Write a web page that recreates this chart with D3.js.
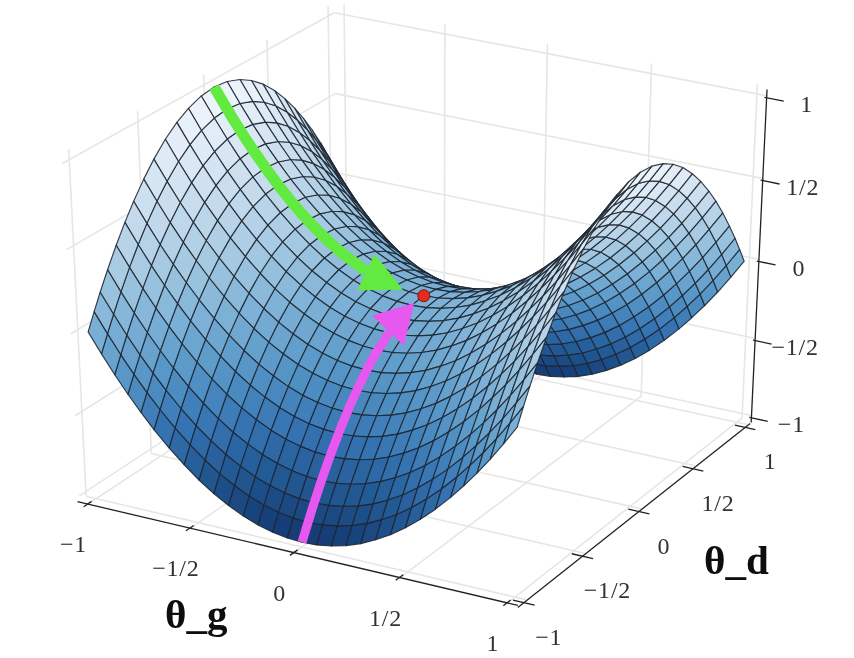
<!DOCTYPE html>
<html><head><meta charset="utf-8">
<script src="https://cdn.jsdelivr.net/npm/d3@7/dist/d3.min.js"></script>
<style>html,body{margin:0;padding:0;background:#fff}svg{display:block}</style>
</head><body><svg id="c" width="854" height="658"></svg>
<script>
// ---- data ----
const thetaG = [-1,-.94,-.88,-.82,-.76,-.7,-.63,-.56,-.49,-.42,-.35,-.28,-.21,-.14,-.07,0,.07,.14,.21,.28,.35,.42,.49,.56,.63,.7,.76,.82,.88,.94,1];
const riseAlongG = [1,.884,.774,.672,.578,.49,.397,.314,.24,.176,.123,.078,.044,.02,.005,0,.005,.02,.044,.078,.123,.176,.24,.314,.397,.49,.578,.672,.774,.884,1];
const thetaD = [-1,-.95,-.9,-.84,-.77,-.7,-.63,-.55,-.47,-.38,-.29,-.2,-.1,0,.1,.2,.29,.38,.47,.55,.63,.7,.77,.84,.9,.95,1];
const dropAlongD = [1,.903,.81,.706,.593,.49,.397,.303,.221,.144,.084,.04,.01,0,.01,.04,.084,.144,.221,.303,.397,.49,.593,.706,.81,.903,1];
const tickValues = [-1,-.5,0,.5,1];
const tickLabels = ["\u22121","\u22121/2","0","1/2","1"];
const greenPathG = [-1,-.9,-.8,-.7,-.6,-.5,-.4,-.3,-.23,-.16,-.1];
const greenPathZ = [1,.81,.64,.49,.36,.25,.16,.09,.053,.026,.01];
const pinkPathD = [-1,-.9,-.8,-.7,-.6,-.5,-.4,-.3,-.2,-.12,-.08];
const pinkPathZ = [-1,-.81,-.64,-.49,-.36,-.25,-.16,-.09,-.04,-.014,-.006];
const lim = 1.05, zLim = 1.03;

// ---- camera calibration: [g, d, z, screenX, screenY, weight] ----
const calib = [
 [-1,-1,0,87,331,3],[1,-1,0,517,430,3],[1,1,0,746,260,3],[-1,0,1,216,83,3],[1,0,1,645,172,3],
 [0,-1,-1,300,543,3],[0,1,-1,545,370,3],[0,0,0,421,296,3],
 [-lim,-lim,-zLim,85,493,1],[lim,-lim,-zLim,515,606,1],[lim,lim,-zLim,743,418,1],[-lim,lim,-zLim,330,347,1],
 [-lim,-lim,zLim,65,163,1],[-lim,lim,zLim,326,12,1],[lim,lim,zLim,758,93,1]
];
function fit(pts){
  const n=11,A=d3.range(n).map(()=>new Array(n+1).fill(0));
  const add=(r,b,w)=>{for(let i=0;i<n;i++){for(let j=0;j<n;j++)A[i][j]+=w*r[i]*r[j];A[i][n]+=w*r[i]*b;}};
  pts.forEach(([X,Y,Z,u,v,w])=>{
    add([X,Y,Z,1,0,0,0,0,-u*X,-u*Y,-u*Z],u,w);
    add([0,0,0,0,X,Y,Z,1,-v*X,-v*Y,-v*Z],v,w);
  });
  for(let i=0;i<n;i++){
    let m=i;for(let k=i+1;k<n;k++)if(Math.abs(A[k][i])>Math.abs(A[m][i]))m=k;
    [A[i],A[m]]=[A[m],A[i]];
    for(let k=i+1;k<n;k++){const f=A[k][i]/A[i][i];for(let j=i;j<=n;j++)A[k][j]-=f*A[i][j];}
  }
  const x=new Array(n);
  for(let i=n-1;i>=0;i--){let s=A[i][n];for(let j=i+1;j<n;j++)s-=A[i][j]*x[j];x[i]=s/A[i][i];}
  return x;
}
const P=fit(calib);
const W=(g,d,z)=>P[8]*g+P[9]*d+P[10]*z+1;
const proj=(g,d,z)=>{const w=W(g,d,z);return [(P[0]*g+P[1]*d+P[2]*z+P[3])/w,(P[4]*g+P[5]*d+P[6]*z+P[7])/w];};

const colour=d3.scaleLinear()
  .domain([-1,-.75,-.5,-.25,0,.25,.5,.75,1])
  .range(["#133670","#20558f","#3573b3","#5595c6","#7bb0d6","#a3c8e1","#c4daec","#dde9f5","#f2f7fc"])
  .interpolate(d3.interpolateRgb);

const svg=d3.select("#c");
const defs=svg.append("defs");
defs.append("filter").attr("id","soft").attr("x","-2%").attr("y","-2%").attr("width","104%").attr("height","104%")
  .append("feGaussianBlur").attr("stdDeviation",0.4);
const root=svg.append("g").attr("filter","url(#soft)");
const line=d3.line();

// ---- panes ----
const grid=root.append("g").attr("fill","none").attr("stroke","#e6e6e6").attr("stroke-width",1.6);
const seg=(a,b)=>grid.append("path").attr("d",line([proj(...a),proj(...b)]));
const ov=1.06;
tickValues.forEach(t=>{
  seg([-lim,t,-zLim],[-lim,t,ov]);      // left wall verticals
  seg([-lim,-lim,t],[-lim,lim,t]);      // left wall horizontals
  seg([t,lim,-zLim],[t,lim,ov]);        // back wall verticals
  seg([-lim,lim,t],[lim,lim,t]);        // back wall horizontals
  seg([t,-lim,-zLim],[t,lim,-zLim]);    // floor
  seg([-lim,t,-zLim],[lim,t,-zLim]);
});

// ---- surface ----
const cells=[];
const Z=(i,j)=>riseAlongG[i]-dropAlongD[j];
for(let i=0;i<thetaG.length-1;i++)for(let j=0;j<thetaD.length-1;j++){
  const c=[[i,j],[i+1,j],[i+1,j+1],[i,j+1]].map(([a,b])=>[thetaG[a],thetaD[b],Z(a,b)]);
  const m=d3.mean(c,p=>p[2]);
  const depth=d3.mean(c,p=>W(...p));
  cells.push({c,m,depth});
}
const farFirst=W(-1,1,0)>W(1,-1,0)?d3.descending:d3.ascending;
cells.sort((a,b)=>farFirst(a.depth,b.depth));
root.append("g").selectAll("path").data(cells).join("path")
  .attr("d",q=>line(q.c.map(p=>proj(...p)))+"Z")
  .attr("fill",q=>colour(q.m))
  .attr("stroke","#1c2530").attr("stroke-opacity",.88).attr("stroke-width",1.15).attr("stroke-linejoin","round");

// ---- arrows ----
function arrow(pts,col,w,len,half){
  const n=pts.length,tip=pts[n-1],prev=pts[n-3];
  const dx=tip[0]-prev[0],dy=tip[1]-prev[1],L=Math.hypot(dx,dy),ux=dx/L,uy=dy/L;
  const base=[tip[0]-ux*len,tip[1]-uy*len];
  const shaft=pts.filter(p=>(p[0]-base[0])*ux+(p[1]-base[1])*uy<0);
  root.append("path").attr("d",d3.line().curve(d3.curveCatmullRom)([...shaft,base]))
    .attr("fill","none").attr("stroke",col).attr("stroke-width",w);
  root.append("path").attr("fill",col)
    .attr("d",line([tip,[base[0]-uy*half,base[1]+ux*half],[base[0]+uy*half,base[1]-ux*half]])+"Z");
}
arrow(greenPathG.map((g,i)=>proj(g,0,greenPathZ[i])),"#62ea3f",11,41,20);
arrow(pinkPathD.map((d,i)=>proj(0,d,pinkPathZ[i])),"#e758f0",9,38,22);
const dot=proj(0,0,0);
root.append("circle").attr("cx",dot[0]).attr("cy",dot[1]).attr("r",6).attr("fill","#e8291c").attr("stroke","#7a1a12").attr("stroke-width",1);

// ---- axes ----
const ax=root.append("g").attr("fill","none").attr("stroke","#222").attr("stroke-width",1.3);
const lab=root.append("g").attr("font-family","'Liberation Serif',serif").attr("font-size",24).attr("fill","#333")
  .attr("text-anchor","middle").attr("letter-spacing",.8);
const off=(p,o)=>[p[0]+o[0],p[1]+o[1]];
const gO=[-2,1],dO=[-2,3],zO=[-1,2];
ax.append("path").attr("d",line([off(proj(-lim,-lim,-zLim),gO),off(proj(lim,-lim,-zLim),gO)]));
ax.append("path").attr("d",line([off(proj(lim,-lim,-zLim),dO),off(proj(lim,lim,-zLim),dO)]));
ax.append("path").attr("d",line([off(proj(lim,lim,-zLim),zO),off(proj(lim,lim,1.05),zO)]));
tickValues.forEach((t,i)=>{
  let c=off(proj(t,-lim,-zLim),gO);
  ax.append("path").attr("d",line([off(proj(t,-lim-.03,-zLim),gO),off(proj(t,-lim+.03,-zLim),gO)]));
  lab.append("text").attr("x",c[0]-14).attr("y",c[1]+48).text(tickLabels[i]);
  c=off(proj(lim,t,-zLim),dO);
  ax.append("path").attr("d",line([off(proj(lim-.05,t,-zLim),dO),off(proj(lim+.05,t,-zLim),dO)]));
  lab.append("text").attr("x",c[0]+25).attr("y",c[1]+42).text(tickLabels[i]);
  c=off(proj(lim,lim,t),zO);
  ax.append("path").attr("d",line([off(proj(lim-.01,lim,t),zO),off(proj(lim+.08,lim,t),zO)]));
  lab.append("text").attr("x",c[0]+40).attr("y",c[1]+14).text(tickLabels[i]);
});
const titles=root.append("g").attr("font-family","'Liberation Serif',serif").attr("font-weight","bold").attr("font-size",41).attr("fill","#0a0a0a");
titles.append("text").attr("x",165).attr("y",628).text("\u03b8_g");
titles.append("text").attr("x",704).attr("y",574).text("\u03b8_d");
</script></body></html>
